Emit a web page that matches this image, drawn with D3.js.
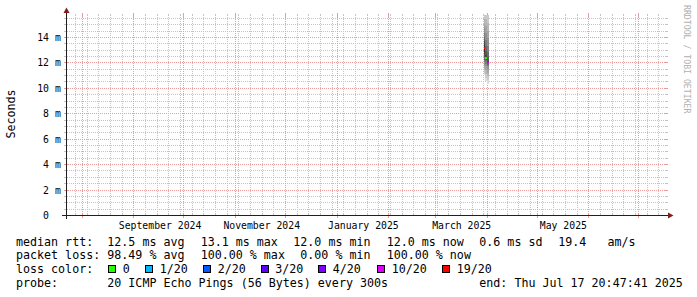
<!DOCTYPE html>
<html><head><meta charset="utf-8">
<script src="https://cdn.jsdelivr.net/npm/d3@7"></script>
<style>
html,body{margin:0;padding:0;background:#fff;}
svg{display:block;}
text{font-family:"DejaVu Sans Mono",monospace;white-space:pre;}
</style></head><body>
<svg id="chart" width="697" height="297"></svg>
<script>
// ---------------- data ----------------
const endTime = new Date(2025, 6, 17, 20, 47, 41);
const spanDays = 360;
const yTicks = [0, 2, 4, 6, 8, 10, 12, 14];          // ms
const yMax = 15.73;                                   // ms at top of plot
const stepTimes = [new Date(2025, 2, 30, 6), new Date(2025, 2, 31, 6), new Date(2025, 3, 1, 6)];
const stepHours = 24;
const medians = [13.16, 12.37, 11.97];                // ms
const losses = [16, 0, 8];                            // lost pings of 20
const pings0 = [11.0, 11.2, 11.4, 11.6, 11.8, 12.0, 12.2, 12.4, 12.6, 12.8, 13.4, 13.6, 13.8, 14.0, 14.3, 14.7, 15.0, 15.4, 15.8, 16.4];
const pings1 = [10.5, 10.8, 11.1, 11.4, 11.7, 11.9, 12.1, 12.2, 12.3, 12.34, 12.4, 12.6, 12.9, 13.3, 13.8, 14.3, 14.9, 15.4, 15.9, 16.5];
const pings2 = [10.3, 10.6, 10.9, 11.2, 11.5, 11.7, 11.8, 11.9, 11.95, 11.96, 11.98, 12.1, 12.4, 12.8, 13.3, 13.9, 14.5, 15.1, 15.7, 16.3];
const pings = [pings0, pings1, pings2];
const lossLevels = [0, 1, 2, 3, 4, 10, 19];
const lossLabels = ["0", "1/20", "2/20", "3/20", "4/20", "10/20", "19/20"];
const lossColors = ["#26ff00", "#00b8ff", "#0059ff", "#5e00ff", "#7e00ff", "#dd00ff", "#ff0000"];
const rttStats = ["12.5 ms avg", "13.1 ms max", "12.0 ms min", "12.0 ms now", "0.6 ms sd", "19.4   am/s"];
const lossStats = ["98.49 % avg", "100.00 % max", "0.00 % min", "100.00 % now"];
const probeText = "20 ICMP Echo Pings (56 Bytes) every 300s";
const endText = "end: Thu Jul 17 20:47:41 2025";
const yTitle = "Seconds";
const watermark = "RRDTOOL / TOBI OETIKER";

// ---------------- layout ----------------
const X0 = 66, X1 = 666, Y0 = 215, Y1 = 15;
const DAY = 86400000;
const startTime = new Date(endTime.getTime() - spanDays * DAY);
const x = d3.scaleTime().domain([startTime, endTime]).range([X0 + 0.5, X1 + 0.5]);
const y = d3.scaleLinear().domain([0, yMax]).range([Y0, Y1]);
const px = v => Math.round(v) + 0.5;
const GRID = "#c4c4c4", MGRID = "#e89c9c", ARROW = "#801f1f", AXIS = "#1f1f1f";

const svg = d3.select("#chart");
svg.append("rect").attr("width", 697).attr("height", 297).attr("fill", "#fff");

const grid = svg.append("g").attr("shape-rendering", "crispEdges").attr("stroke-width", 1);
function line(g, x1, y1, x2, y2, col, dashed) {
  const l = g.append("line").attr("x1", x1).attr("y1", y1).attr("x2", x2).attr("y2", y2).attr("stroke", col);
  if (dashed) l.attr("stroke-dasharray", "1,1");
}

// horizontal grid
const minorY = d3.range(0, yMax, 0.5).filter(v => Math.abs(v / 2 - Math.round(v / 2)) > 1e-9);
minorY.forEach(v => {
  const yy = px(y(v));
  line(grid, X0 - 1, yy, X1 + 1, yy, GRID, true);
  line(grid, X0 - 2, yy, X0, yy, GRID);
  line(grid, X1, yy, X1 + 2, yy, GRID);
});
yTicks.forEach(v => {
  const yy = px(y(v));
  line(grid, X0 - 2, yy, X1 + 2, yy, MGRID, true);
  line(grid, X0 - 2, yy, X0 + 2, yy, MGRID);
  line(grid, X1 - 2, yy, X1 + 2, yy, MGRID);
});

// vertical grid: weekly minor, monthly major
d3.timeSunday.range(startTime, endTime).forEach(t => {
  const xx = px(x(t));
  line(grid, xx, Y0 + 1, xx, Y1 - 1, GRID, true);
  line(grid, xx, Y0 - 1, xx, Y0 + 1, GRID);
  line(grid, xx, Y1 - 1, xx, Y1 + 1, GRID);
});
const months = d3.timeMonth.range(startTime, endTime);
months.forEach(t => {
  const xx = px(x(t));
  line(grid, xx, Y0 + 3, xx, Y1 - 2, MGRID, true);
  line(grid, xx, Y0 - 2, xx, Y0 + 2, MGRID);
  line(grid, xx, Y1 - 2, xx, Y1 + 2, MGRID);
});

// ---------------- data: smoke + median ----------------
svg.append("clipPath").attr("id", "plotclip").append("rect")
  .attr("x", X0).attr("y", Y1).attr("width", X1 - X0 + 1).attr("height", Y0 - Y1);
const plot = svg.append("g").attr("clip-path", "url(#plotclip)").attr("shape-rendering", "crispEdges");
stepTimes.forEach((t, i) => {
  const t2 = new Date(t.getTime() + stepHours * 3600000);
  const xa = x(t), xb = x(t2);
  const p = pings[i].slice().sort((a, b) => a - b);
  const n = p.length, half = n / 2;
  for (let k = 1; k <= half; k++) {
    const lo = p[k - 1], hi = p[n - k];
    const c = Math.round(190 / half * (half - k)) + 50;
    plot.append("rect").attr("x", xa).attr("width", xb - xa)
      .attr("y", y(hi)).attr("height", y(lo) - y(hi))
      .attr("fill", d3.rgb(c, c, c));
  }
});
stepTimes.forEach((t, i) => {
  const L = losses[i];
  let idx = -1;
  if (L === 0) idx = 0;
  else for (let j = 1; j < lossLevels.length; j++) { if (L <= lossLevels[j]) { idx = j; break; } }
  if (idx < 0) return;
  const t2 = new Date(t.getTime() + stepHours * 3600000);
  const ym = y(medians[i]);
  plot.append("rect").attr("x", x(t)).attr("width", x(t2) - x(t))
    .attr("y", ym - 1).attr("height", 2).attr("fill", lossColors[idx]);
});

// ---------------- axes & arrows ----------------
const ax = svg.append("g").attr("shape-rendering", "crispEdges");
line(ax, X0 - 4, Y0 + 0.5, X1 + 4, Y0 + 0.5, AXIS);
line(ax, X0 + 0.5, Y0 + 4, X0 + 0.5, Y1 - 4, AXIS);
svg.append("path").attr("fill", ARROW)
  .attr("d", `M${X1 + 2},${Y0 + 0.5 - 3}L${X1 + 2},${Y0 + 0.5 + 3}L${X1 + 7.5},${Y0 + 0.5}Z`);
svg.append("path").attr("fill", ARROW)
  .attr("d", `M${X0 + 0.5 - 3},${Y1 - 2}L${X0 + 0.5 + 3},${Y1 - 2}L${X0 + 0.5},${Y1 - 7.5}Z`);

// y tick labels
const axisFont = "9.8px";
yTicks.forEach(v => {
  svg.append("text").attr("x", 60.8).attr("y", px(y(v)) + 3.5)
    .attr("text-anchor", "end").attr("font-size", axisFont).attr("fill", "#000")
    .attr("xml:space", "preserve")
    .text(v === 0 ? "0  " : v + " m");
});

// x labels: every second month, centred about half a month after month start
const fmt = d3.timeFormat("%B %Y");
months.filter(t => t.getMonth() % 2 === 0).forEach(t => {
  const tl = new Date(t.getTime() + 16 * DAY);
  if (tl.getTime() + 15.5 * DAY > endTime.getTime()) return;
  svg.append("text").attr("x", x(tl)).attr("y", 228.5)
    .attr("text-anchor", "middle").attr("font-size", axisFont).attr("fill", "#000")
    .text(fmt(t));
});

// y title
svg.append("text").attr("transform", "translate(14.5,114) rotate(-90)")
  .attr("text-anchor", "middle").attr("font-size", "11.66px").attr("fill", "#000").text(yTitle);

// watermark
svg.append("text").attr("transform", "translate(690,5) rotate(90)")
  .attr("dominant-baseline", "hanging").attr("font-size", "8.2px").attr("fill", "#b0b0b0").text(watermark);

// ---------------- legend ----------------
const lf = "11.66px";
const rows = [245.5, 259.2, 272.9, 286.6];
function lt(xx, yy, s) {
  svg.append("text").attr("x", xx).attr("y", yy).attr("font-size", lf).attr("fill", "#000")
    .attr("xml:space", "preserve").text(s);
}
lt(16, rows[0], "median rtt:");
const rttX = [107.3, 200.7, 293.3, 386.7, 479.3, 558.3];
rttStats.forEach((s, i) => lt(rttX[i], rows[0], s));
lt(16, rows[1], "packet loss:");
const lossX = [107.3, 200.7, 300.3, 386.7];
lossStats.forEach((s, i) => lt(lossX[i], rows[1], s));
lt(16, rows[2], "loss color:");
const boxX = [108.5, 145.5, 203.5, 261, 318.5, 377.5, 442.5];
lossLabels.forEach((s, i) => {
  svg.append("rect").attr("x", boxX[i]).attr("y", 265.5).attr("width", 7).attr("height", 7)
    .attr("fill", lossColors[i]).attr("stroke", "#000").attr("stroke-width", 1)
    .attr("shape-rendering", "crispEdges");
  lt(boxX[i] + 14.3, rows[2], s);
});
lt(16, rows[3], "probe:");
lt(107.3, rows[3], probeText);
lt(479.3, rows[3], endText);
</script>
</body></html>
